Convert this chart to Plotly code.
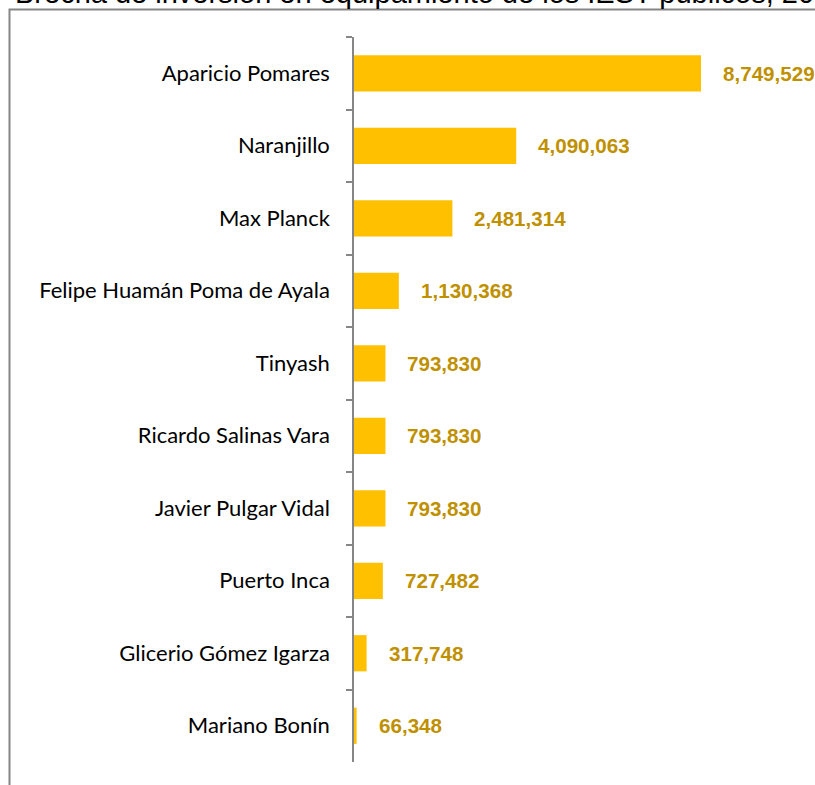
import plotly.graph_objects as go

categories = ["Aparicio Pomares", "Naranjillo", "Max Planck", "Felipe Huamán Poma de Ayala",
              "Tinyash", "Ricardo Salinas Vara", "Javier Pulgar Vidal", "Puerto Inca",
              "Glicerio Gómez Igarza", "Mariano Bonín"]
values = [8749529, 4090063, 2481314, 1130368, 793830, 793830, 793830, 727482, 317748, 66348]
title_text = "Brecha de inversión en equipamiento de los IEST públicos, 2019"

W, H = 815, 785
L, R, T, B = 354, 0, 37, 23
pw, ph = W - L - R, H - T - B
xmax = 8749529 * pw / 347.0

def px_x(p):
    return (p - L) / pw

def px_y(p):
    return 1 - (p - T) / ph

fig = go.Figure()
fig.add_trace(go.Bar(
    y=categories, x=values, orientation="h",
    marker=dict(color="#FFC000", line=dict(width=0)),
    hoverinfo="x+y",
))

for c, v in zip(categories, values):
    fig.add_annotation(x=v, y=c, xref="x", yref="y", text=f"{v:,}",
                       showarrow=False, xanchor="left", yanchor="middle", xshift=20,
                       font=dict(family="Liberation Sans, Arial", size=20.6, color="#BF9000", weight="bold"))

fig.add_annotation(x=px_x(13), y=px_y(-7), xref="paper", yref="paper", text=title_text,
                   showarrow=False, xanchor="left", yanchor="middle",
                   font=dict(family="Liberation Sans, Arial", size=29, color="#000000"))
fig.add_annotation(x=px_x(4), y=px_y(-7), xref="paper", yref="paper", text=":",
                   showarrow=False, xanchor="right", yanchor="middle",
                   font=dict(family="Liberation Sans, Arial", size=29, color="#000000"))

fig.add_shape(type="rect", xref="paper", yref="paper",
              x0=px_x(9.5), y0=px_y(9.5), x1=px_x(W + 20), y1=px_y(H + 20),
              line=dict(color="#858585", width=2), fillcolor="rgba(0,0,0,0)", layer="below")

fig.update_layout(
    width=W, height=H,
    margin=dict(l=L, r=R, t=T, b=B, pad=0),
    paper_bgcolor="white", plot_bgcolor="white",
    showlegend=False, bargap=0.5,
    xaxis=dict(range=[0, xmax], visible=False, showgrid=False, zeroline=False),
    yaxis=dict(
        categoryorder="array", categoryarray=categories, autorange="reversed",
        showline=True, linecolor="#868686", linewidth=1.5,
        ticks="outside", ticklen=6, tickcolor="#868686", tickwidth=1.5,
        tickson="boundaries", ticklabelstandoff=18,
        showgrid=False, zeroline=False,
        tickfont=dict(family="Lato, Noto Sans", size=22, color="#000000"),
    ),
)

fig.write_html("out.html", config={"displayModeBar": False},
               post_script="document.body.style.margin='0';")
